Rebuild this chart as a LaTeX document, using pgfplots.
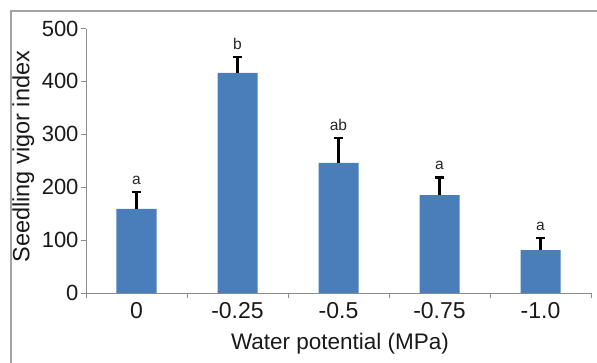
\documentclass[border=0pt]{standalone}
\usepackage{fontspec}
\setmainfont{Liberation Sans}
\usepackage{pgfplots}
\pgfplotsset{compat=1.18}
\definecolor{barblue}{HTML}{4A7EBB}
\definecolor{axgray}{HTML}{8C8C8C}
\begin{document}
\begin{tikzpicture}
\path[use as bounding box] (0,0) rectangle (597bp,363bp);
\draw[color=axgray!80, line width=1.4bp] (11bp,0) -- (11bp,352bp) -- (597bp,352bp);
\begin{axis}[
  at={(86bp,70bp)}, anchor=south west,
  scale only axis,
  width=505bp, height=264.5bp,
  xmin=-0.5, xmax=4.5, ymin=0, ymax=500,
  axis x line=bottom, axis y line=left,
  axis line style={color=axgray, line width=1bp, -},
  xtick={0,1,2,3,4},
  xticklabels={0,-0.25,-0.5,-0.75,-1.0},
  minor xtick={-0.5,0.5,1.5,2.5,3.5,4.5},
  major x tick style={draw=none},
  minor x tick style={color=axgray, line width=1bp},
  minor tick length=5bp,
  ytick={0,100,200,300,400,500},
  y tick style={color=axgray, line width=1bp},
  major tick length=5bp,
  tick align=outside,
  xticklabel style={font=\fontsize{23bp}{26bp}\selectfont, yshift=-1bp, color=black!90},
  yticklabel style={font=\fontsize{22bp}{26bp}\selectfont, xshift=1bp, color=black!90},
  /pgf/number format/assume math mode=true,
  xlabel={Water potential (MPa)},
  ylabel={Seedling vigor index},
  xlabel style={font=\fontsize{22.5bp}{26bp}\selectfont, at={(axis description cs:0.503,-0.193)}, anchor=center, color=black!90},
  ylabel style={font=\fontsize{23.5bp}{26bp}\selectfont, at={(axis description cs:-0.124,0.515)}, anchor=center, color=black!90},
  clip=false,
]
\addplot[ybar, bar width=40bp, fill=barblue, draw=none,
  error bars/.cd, y dir=plus, y explicit,
  error bar style={black, line width=2.2bp},
  error mark options={rotate=90, mark size=4.5bp, line width=2.8bp, black}]
  coordinates {
  (0,159) +- (0,32)
  (1,416) +- (0,30)
  (2,246) +- (0,47)
  (3,185) +- (0,34)
  (4,81) +- (0,23)
  };
\addplot[draw=none, mark=none, nodes near coords, point meta=explicit symbolic,
  every node near coord/.append style={font=\fontsize{15.5bp}{18bp}\selectfont, anchor=south, yshift=4bp, color=black!85}]
  coordinates {
  (0,191) [a]
  (1,446) [b]
  (2,293) [ab]
  (3,219) [a]
  (4,104) [a]
  };
\end{axis}
\end{tikzpicture}
\end{document}
